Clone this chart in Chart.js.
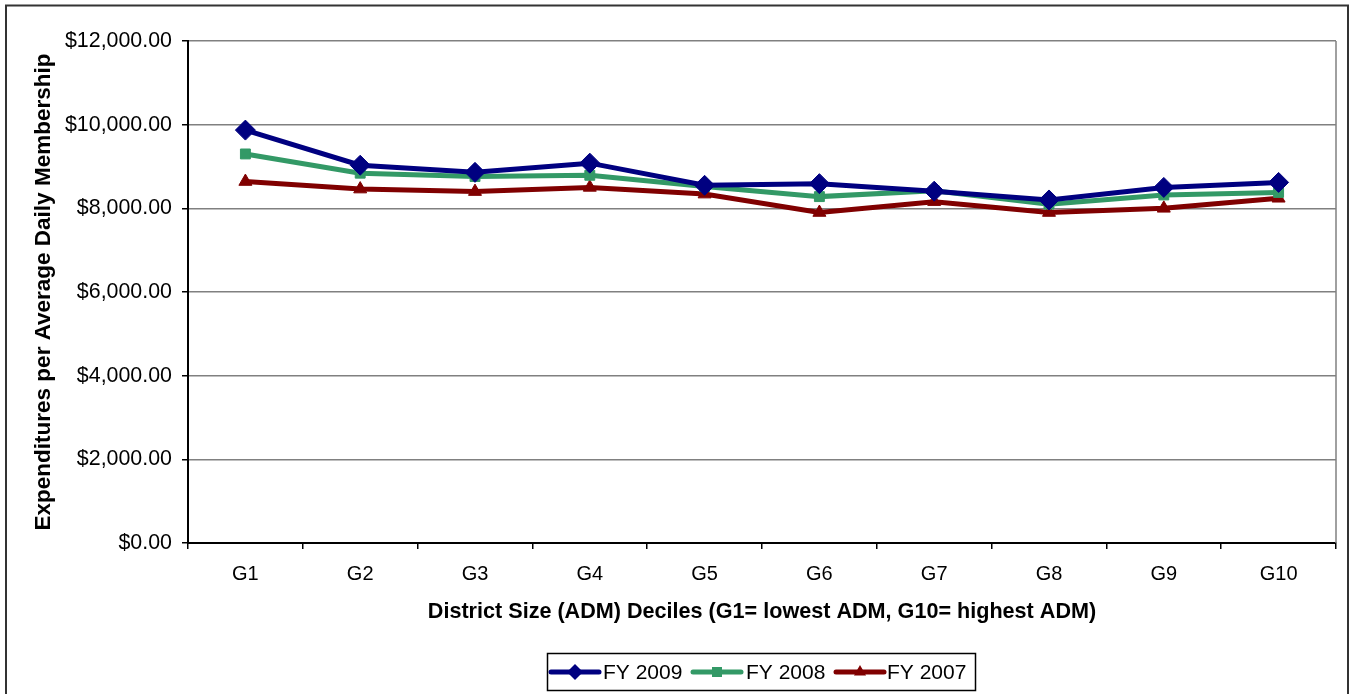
<!DOCTYPE html>
<html>
<head>
<meta charset="utf-8">
<script src="https://cdn.jsdelivr.net/npm/chart.js@4.4.1/dist/chart.umd.min.js"></script>
<style>
  html, body { margin: 0; padding: 0; background: #fff; }
  #wrap { width: 1352px; height: 694px; position: relative; }
</style>
</head>
<body>
<div id="wrap"><canvas id="c" width="1352" height="694"></canvas></div>
<script>
const categories = ["G1", "G2", "G3", "G4", "G5", "G6", "G7", "G8", "G9", "G10"];
const fy2009 = [9870, 9030, 8860, 9080, 8550, 8590, 8410, 8200, 8500, 8620];
const fy2008 = [9300, 8840, 8760, 8790, 8520, 8280, 8420, 8100, 8320, 8380];
const fy2007 = [8640, 8460, 8400, 8500, 8340, 7900, 8160, 7900, 8000, 8240];
const yTicks = [0, 2000, 4000, 6000, 8000, 10000, 12000];
const seriesNames = ["FY 2009", "FY 2008", "FY 2007"];

const FONT = "'Liberation Sans', Arial, sans-serif";

function money(v) {
  return "$" + v.toLocaleString("en-US", { minimumFractionDigits: 2, maximumFractionDigits: 2 });
}

const decorPlugin = {
  id: "decor",
  beforeDraw(chart) {
    const ctx = chart.ctx;
    ctx.save();
    ctx.strokeStyle = "#333";
    ctx.lineWidth = 2;
    ctx.strokeRect(6, 5.5, 1342, 720);
    ctx.restore();
  },
  beforeDatasetsDraw(chart) {
    const ctx = chart.ctx;
    const a = chart.chartArea;
    ctx.save();
    ctx.strokeStyle = "#808080";
    ctx.lineWidth = 1.5;
    ctx.beginPath();
    ctx.moveTo(a.right, a.top);
    ctx.lineTo(a.right, a.bottom);
    ctx.stroke();
    ctx.restore();
  },
  afterDraw(chart) {
    const ctx = chart.ctx;
    ctx.save();
    ctx.strokeStyle = "#000";
    ctx.lineWidth = 1.5;
    ctx.strokeRect(547.5, 653.5, 428, 37);
    const items = [
      { x0: 551, x1: 599, tx: 603 },
      { x0: 693, x1: 741, tx: 746 },
      { x0: 836, x1: 884, tx: 887 }
    ];
    const y = 672;
    chart.data.datasets.forEach((ds, i) => {
      const it = items[i];
      ctx.strokeStyle = ds.borderColor;
      ctx.lineWidth = 5;
      ctx.lineCap = "round";
      ctx.beginPath();
      ctx.moveTo(it.x0, y);
      ctx.lineTo(it.x1, y);
      ctx.stroke();
      const cx = (it.x0 + it.x1) / 2;
      ctx.fillStyle = ds.borderColor;
      ctx.beginPath();
      if (ds.pointStyle === "rectRot") {
        const r = 8;
        ctx.moveTo(cx, y - r); ctx.lineTo(cx + r, y); ctx.lineTo(cx, y + r); ctx.lineTo(cx - r, y);
      } else if (ds.pointStyle === "rect") {
        const s = 5;
        ctx.rect(cx - s, y - s, 2 * s, 2 * s);
      } else {
        const r = 7;
        ctx.moveTo(cx, y - r); ctx.lineTo(cx + r * 0.866, y + r * 0.5); ctx.lineTo(cx - r * 0.866, y + r * 0.5);
      }
      ctx.closePath();
      ctx.fill();
      ctx.fillStyle = "#000";
      ctx.font = "21px " + FONT;
      ctx.textBaseline = "middle";
      ctx.textAlign = "left";
      ctx.fillText(ds.label, it.tx, y + 1);
    });
    ctx.restore();
  }
};

new Chart(document.getElementById("c"), {
  type: "line",
  data: {
    labels: categories,
    datasets: [
      { label: seriesNames[0], data: fy2009, borderColor: "#000080", backgroundColor: "#000080",
        borderWidth: 5, pointStyle: "rectRot", pointRadius: 10, pointBorderWidth: 1, tension: 0 },
      { label: seriesNames[1], data: fy2008, borderColor: "#339966", backgroundColor: "#339966",
        borderWidth: 5, pointStyle: "rect", pointRadius: 7, pointBorderWidth: 1, tension: 0 },
      { label: seriesNames[2], data: fy2007, borderColor: "#800000", backgroundColor: "#800000",
        borderWidth: 5, pointStyle: "triangle", pointRadius: 7.5, pointBorderWidth: 1, tension: 0 }
    ]
  },
  options: {
    responsive: false,
    animation: false,
    devicePixelRatio: 1,
    layout: { padding: { left: 0, top: 41, right: 16, bottom: 0 } },
    plugins: { legend: { display: false }, tooltip: { enabled: false } },
    scales: {
      x: {
        type: "category",
        offset: true,
        grid: { display: true, offset: true, drawOnChartArea: false, drawTicks: true, tickLength: 6, tickColor: "#000", lineWidth: 1.5 },
        border: { display: true, color: "#000", width: 2 },
        ticks: { color: "#000", font: { family: FONT, size: 20 }, padding: 13, maxRotation: 0 },
        title: { display: true, text: "District Size (ADM) Deciles (G1= lowest ADM, G10= highest ADM)",
                 color: "#000", font: { family: FONT, size: 21.6, weight: "bold" }, padding: { top: 0, bottom: 69 } },
        afterFit(scale) { scale.height = 151; }
      },
      y: {
        min: 0, max: 12000,
        afterBuildTicks(scale) { scale.ticks = yTicks.map(v => ({ value: v })); },
        grid: { color: "#808080", lineWidth: 1.5, tickLength: 6, tickColor: "#000", drawTicks: true },
        border: { display: true, color: "#000", width: 2 },
        ticks: { color: "#000", font: { family: FONT, size: 21.4 }, padding: 10, callback: v => money(v) },
        title: { display: true, text: "Expenditures per Average Daily Membership",
                 color: "#000", font: { family: FONT, size: 22.5, weight: "bold" }, padding: { top: 30, bottom: 0 } },
        afterFit(scale) { scale.width = 188; }
      }
    }
  },
  plugins: [decorPlugin]
});
</script>
</body>
</html>
